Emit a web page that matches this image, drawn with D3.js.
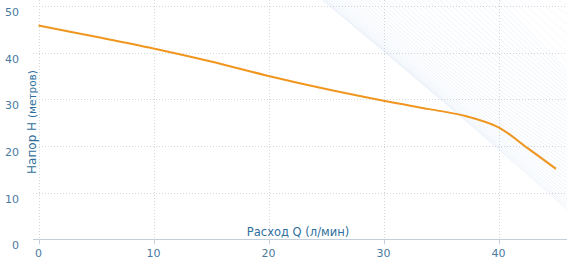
<!DOCTYPE html>
<html>
<head>
<meta charset="utf-8">
<script src="https://cdn.jsdelivr.net/npm/d3@7"></script>
<style>
  body { margin: 0; background: #fff; }
  svg { display: block; font-family: 'DejaVu Sans', sans-serif; }
  .grid line { stroke: #d4d8dc; stroke-dasharray: 1,2; }
  .tick-label { fill: #4a7aa0; font-size: 11px; }
</style>
</head>
<body>
<div id="chart"></div>
<script>
// pump curve: flow Q (l/min) vs head H (m)
const flowQ = [0, 5, 10, 15, 20, 25, 30, 34, 37, 40, 42.5, 45];
const headH = [45.8, 43.4, 40.9, 38.1, 35.0, 32.2, 29.7, 27.9, 26.5, 24.0, 19.6, 15.1];

const xTicks = [0, 10, 20, 30, 40];
const yTicks = [0, 10, 20, 30, 40, 50];

// background fan of system curves: head at Q = 24, 36, 46
const fanQ = [24, 36, 46];
const fanH24 = [52.7, 52.9, 53.2, 53.5, 53.9, 54.3, 54.8, 55.3, 55.9, 56.5, 57.2, 57.9, 58.7, 59.5, 60.4, 61.3, 62.3, 63.3, 64.4, 65.5,
                66.7, 67.9, 69.2, 70.5, 71.9, 73.3, 74.8, 76.3, 77.9, 79.5, 81.2, 82.9, 84.7, 86.5, 88.4, 90.3, 92.3, 94.3, 96.4, 98.5,
                100, 101.5, 103, 104.5, 106, 107.5, 109, 110.5, 112, 113.5, 115, 116.5];
const fanH36 = [27.8, 28.0, 28.2, 28.5, 28.8, 29.2, 29.6, 30.0, 30.5, 31.0, 31.6, 32.2, 32.8, 33.5, 34.2, 34.9, 35.7, 36.5, 37.3, 38.2,
                39.1, 40.0, 41.0, 42.0, 43.0, 44.1, 45.2, 46.3, 47.5, 48.7, 49.9, 51.2, 52.5, 53.8, 55.2, 56.6, 58.0, 59.5, 61.0, 62.5,
                63.8, 65.0, 66.2, 67.4, 68.6, 69.8, 71.0, 72.2, 73.4, 74.6, 75.8, 77.0];
const fanH46 = [6.3, 6.8, 7.3, 7.9, 8.5, 9.2, 9.9, 10.6, 11.4, 12.2, 13.0, 13.8, 14.6, 15.4, 16.2, 17.0, 17.8, 18.6, 19.4, 20.2,
                21.0, 21.8, 22.6, 23.4, 24.2, 25.0, 25.8, 26.6, 27.4, 28.2, 29.0, 29.8, 30.6, 31.4, 32.2, 33.0, 33.8, 34.6, 35.4, 36.2,
                38, 40, 42, 44, 46, 48, 50, 52, 54, 56, 58, 60];

const width = 567, height = 262;
const x = d3.scaleLinear().domain([0, 46]).range([38.5, 567.5]);
const y = d3.scaleLinear().domain([0, 50]).range([239.3, 6]);

const svg = d3.select('#chart').append('svg')
    .attr('width', width)
    .attr('height', height);

svg.append('clipPath').attr('id', 'plot')
  .append('rect')
    .attr('x', x(0)).attr('y', 0)
    .attr('width', width - x(0)).attr('height', y(0));

// grid
const grid = svg.append('g').attr('class', 'grid');
grid.selectAll('.h').data(yTicks.filter(d => d > 0)).enter().append('line')
    .attr('x1', 33).attr('x2', width)
    .attr('y1', d => Math.round(y(d)) + 0.5).attr('y2', d => Math.round(y(d)) + 0.5);
grid.selectAll('.v').data(xTicks).enter().append('line')
    .attr('x1', d => Math.round(x(d)) + 0.5).attr('x2', d => Math.round(x(d)) + 0.5)
    .attr('y1', 0).attr('y2', y(0));

// fan
const fanLine = d3.line().curve(d3.curveNatural)
    .x(d => x(d[0])).y(d => y(d[1]));
svg.append('g').attr('clip-path', 'url(#plot)')
  .selectAll('path').data(fanH24.map((h, i) => [h, fanH36[i], fanH46[i]]))
  .enter().append('path')
    .attr('d', hs => fanLine(hs.map((h, j) => [fanQ[j], h])))
    .attr('fill', 'none')
    .attr('stroke', '#9dbbe0')
    .attr('stroke-opacity', (d, i) => i < 40 ? 0.32 : 0.2)
    .attr('stroke-width', 0.5);

// x axis
const xAxis = svg.append('g');
xAxis.append('line')
    .attr('x1', 33).attr('x2', width)
    .attr('y1', Math.round(y(0)) + 0.5).attr('y2', Math.round(y(0)) + 0.5)
    .attr('stroke', '#c3d0dc');
xAxis.selectAll('.tk').data(xTicks).enter().append('line')
    .attr('x1', d => Math.round(x(d)) + 0.5).attr('x2', d => Math.round(x(d)) + 0.5)
    .attr('y1', y(0)).attr('y2', y(0) + 5)
    .attr('stroke', '#c3d0dc');
xAxis.selectAll('text').data(xTicks).enter().append('text')
    .attr('class', 'tick-label')
    .attr('x', d => x(d)).attr('y', 257)
    .attr('text-anchor', 'middle')
    .text(d => d);

// y labels
svg.append('g').selectAll('text').data(yTicks).enter().append('text')
    .attr('class', 'tick-label')
    .attr('x', 19).attr('y', d => y(d) + 10)
    .attr('text-anchor', 'end')
    .text(d => d);

// axis titles
const yt = svg.append('text')
    .attr('transform', 'translate(36,122) rotate(-90)')
    .attr('text-anchor', 'middle')
    .attr('fill', '#2f6f9c')
    .attr('font-size', 12);
yt.append('tspan').text('Напор Н ');
yt.append('tspan').attr('font-size', 10.5).text('(метров)');

svg.append('text')
    .attr('x', 298).attr('y', 236)
    .attr('text-anchor', 'middle')
    .attr('fill', '#2f6f9c')
    .attr('font-size', 11.5)
    .text('Расход Q (л/мин)');

// pump curve
svg.append('path')
    .datum(flowQ.map((q, i) => [q, headH[i]]))
    .attr('d', d3.line().curve(d3.curveCatmullRom.alpha(0.5)).x(d => x(d[0])).y(d => y(d[1])))
    .attr('fill', 'none')
    .attr('stroke', '#f0961f')
    .attr('stroke-width', 2);
</script>
</body>
</html>
